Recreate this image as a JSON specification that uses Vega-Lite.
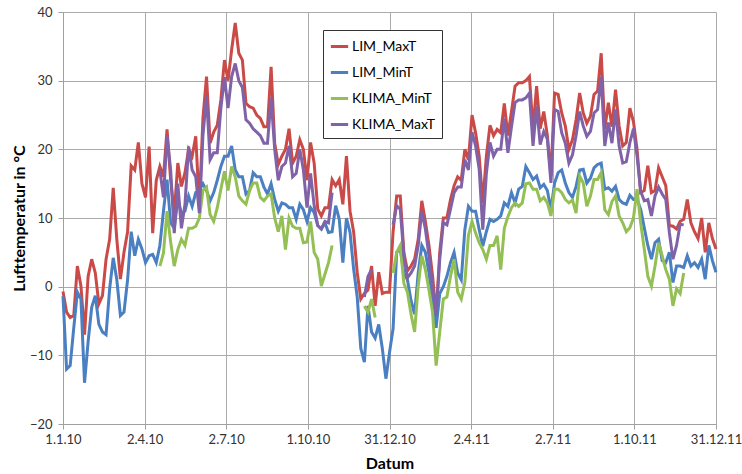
{
  "$schema": "https://vega.github.io/schema/vega-lite/v6.json",
  "width": 653,
  "height": 412,
  "autosize": "none",
  "padding": {"left": 63, "top": 12, "right": 26, "bottom": 50},
  "background": "white",
  "config": {"font": "Lato", "view": {"stroke": null}},
  "data": {"values": [
    {"day":0,"LIM_MaxT":-0.7,"LIM_MinT":-1.4},
    {"day":4,"LIM_MaxT":-3.7,"LIM_MinT":-12},
    {"day":8,"LIM_MaxT":-4.5,"LIM_MinT":-11.5},
    {"day":12,"LIM_MaxT":-4.2,"LIM_MinT":-6},
    {"day":16,"LIM_MaxT":3,"LIM_MinT":-0.8},
    {"day":20,"LIM_MaxT":0.1,"LIM_MinT":-1.8},
    {"day":24,"LIM_MaxT":-7,"LIM_MinT":-14},
    {"day":28,"LIM_MaxT":1.5,"LIM_MinT":-8},
    {"day":32,"LIM_MaxT":4,"LIM_MinT":-3},
    {"day":36,"LIM_MaxT":2,"LIM_MinT":-1.3},
    {"day":40,"LIM_MaxT":-2.5,"LIM_MinT":-5.5},
    {"day":44,"LIM_MaxT":-1.3,"LIM_MinT":-6.6},
    {"day":48,"LIM_MaxT":4,"LIM_MinT":-7},
    {"day":52,"LIM_MaxT":6.9,"LIM_MinT":-0.3},
    {"day":56,"LIM_MaxT":14.4,"LIM_MinT":4.2},
    {"day":60,"LIM_MaxT":6.9,"LIM_MinT":1},
    {"day":64,"LIM_MaxT":1.1,"LIM_MinT":-4.2},
    {"day":68,"LIM_MaxT":5,"LIM_MinT":-3.7},
    {"day":72,"LIM_MaxT":8,"LIM_MinT":1},
    {"day":76,"LIM_MaxT":17.6,"LIM_MinT":8},
    {"day":80,"LIM_MaxT":17,"LIM_MinT":4.5},
    {"day":84,"LIM_MaxT":21,"LIM_MinT":6.9},
    {"day":88,"LIM_MaxT":15,"LIM_MinT":5.5},
    {"day":92,"LIM_MaxT":13,"LIM_MinT":3.5},
    {"day":96,"LIM_MaxT":20.4,"LIM_MinT":4.5},
    {"day":100,"LIM_MaxT":7.8,"LIM_MinT":4.7},
    {"day":104,"LIM_MaxT":15.5,"LIM_MinT":3.5},
    {"day":108,"LIM_MaxT":17.5,"LIM_MinT":6,"KLIMA_MinT":3,"KLIMA_MaxT":17},
    {"day":112,"LIM_MaxT":16,"LIM_MinT":11,"KLIMA_MinT":4.9,"KLIMA_MaxT":13},
    {"day":116,"LIM_MaxT":22.9,"LIM_MinT":15.6,"KLIMA_MinT":11,"KLIMA_MaxT":22},
    {"day":120,"LIM_MaxT":15.6,"LIM_MinT":9.3,"KLIMA_MinT":6.5,"KLIMA_MaxT":17},
    {"day":124,"LIM_MaxT":10.5,"LIM_MinT":8.5,"KLIMA_MinT":3,"KLIMA_MaxT":7.8},
    {"day":128,"LIM_MaxT":18,"LIM_MinT":12.7,"KLIMA_MinT":5.4,"KLIMA_MaxT":15},
    {"day":132,"LIM_MaxT":14.6,"LIM_MinT":10.7,"KLIMA_MinT":6.9,"KLIMA_MaxT":8.5},
    {"day":136,"LIM_MaxT":16.6,"LIM_MinT":11,"KLIMA_MinT":6,"KLIMA_MaxT":12},
    {"day":140,"LIM_MaxT":20,"LIM_MinT":13.2,"KLIMA_MinT":8.5,"KLIMA_MaxT":20.4},
    {"day":144,"LIM_MaxT":19,"LIM_MinT":11.7,"KLIMA_MinT":8.5,"KLIMA_MaxT":17},
    {"day":148,"LIM_MaxT":21.9,"LIM_MinT":13.7,"KLIMA_MinT":8.8,"KLIMA_MaxT":16},
    {"day":152,"LIM_MaxT":11.7,"LIM_MinT":14,"KLIMA_MinT":10,"KLIMA_MaxT":10.7},
    {"day":156,"LIM_MaxT":24.5,"LIM_MinT":15,"KLIMA_MinT":14,"KLIMA_MaxT":22},
    {"day":160,"LIM_MaxT":30.6,"LIM_MinT":14,"KLIMA_MinT":14.5,"KLIMA_MaxT":27.7},
    {"day":164,"LIM_MaxT":20.9,"LIM_MinT":12.5,"KLIMA_MinT":10.5,"KLIMA_MaxT":18.5},
    {"day":168,"LIM_MaxT":22.5,"LIM_MinT":13.7,"KLIMA_MinT":9.5,"KLIMA_MaxT":19.5},
    {"day":172,"LIM_MaxT":23.5,"LIM_MinT":15.5,"KLIMA_MinT":11.5,"KLIMA_MaxT":19.5},
    {"day":176,"LIM_MaxT":27.2,"LIM_MinT":17.5,"KLIMA_MinT":14.2,"KLIMA_MaxT":26},
    {"day":180,"LIM_MaxT":33,"LIM_MinT":19,"KLIMA_MinT":16.8,"KLIMA_MaxT":30.5},
    {"day":184,"LIM_MaxT":30,"LIM_MinT":19,"KLIMA_MinT":14,"KLIMA_MaxT":26},
    {"day":188,"LIM_MaxT":34.5,"LIM_MinT":20.5,"KLIMA_MinT":17.5,"KLIMA_MaxT":30.6},
    {"day":192,"LIM_MaxT":38.4,"LIM_MinT":17,"KLIMA_MinT":16,"KLIMA_MaxT":32.5},
    {"day":196,"LIM_MaxT":34,"LIM_MinT":16,"KLIMA_MinT":13.2,"KLIMA_MaxT":30},
    {"day":200,"LIM_MaxT":33,"LIM_MinT":16,"KLIMA_MinT":12.5,"KLIMA_MaxT":29},
    {"day":204,"LIM_MaxT":26.7,"LIM_MinT":13.5,"KLIMA_MinT":12,"KLIMA_MaxT":24.3},
    {"day":208,"LIM_MaxT":26.2,"LIM_MinT":14,"KLIMA_MinT":14,"KLIMA_MaxT":23.8},
    {"day":212,"LIM_MaxT":26,"LIM_MinT":16.6,"KLIMA_MinT":15.1,"KLIMA_MaxT":23},
    {"day":216,"LIM_MaxT":25,"LIM_MinT":16,"KLIMA_MinT":15.1,"KLIMA_MaxT":22.5},
    {"day":220,"LIM_MaxT":24.5,"LIM_MinT":16,"KLIMA_MinT":13,"KLIMA_MaxT":22},
    {"day":224,"LIM_MaxT":23.3,"LIM_MinT":14.5,"KLIMA_MinT":12.5,"KLIMA_MaxT":20.9},
    {"day":228,"LIM_MaxT":23.3,"LIM_MinT":13.5,"KLIMA_MinT":13.2,"KLIMA_MaxT":20.9},
    {"day":232,"LIM_MaxT":32,"LIM_MinT":15,"KLIMA_MinT":13.5,"KLIMA_MaxT":27.5},
    {"day":236,"LIM_MaxT":20.9,"LIM_MinT":12.7,"KLIMA_MinT":10,"KLIMA_MaxT":20},
    {"day":240,"LIM_MaxT":17.8,"LIM_MinT":11,"KLIMA_MinT":8,"KLIMA_MaxT":15.5},
    {"day":244,"LIM_MaxT":19,"LIM_MinT":12.2,"KLIMA_MinT":10.3,"KLIMA_MaxT":17.5},
    {"day":248,"LIM_MaxT":20,"LIM_MinT":12,"KLIMA_MinT":5.4,"KLIMA_MaxT":18},
    {"day":252,"LIM_MaxT":23,"LIM_MinT":11.5,"KLIMA_MinT":10,"KLIMA_MaxT":20.5},
    {"day":256,"LIM_MaxT":18,"LIM_MinT":11.5,"KLIMA_MinT":8.8,"KLIMA_MaxT":16},
    {"day":260,"LIM_MaxT":19,"LIM_MinT":9.8,"KLIMA_MinT":8.5,"KLIMA_MaxT":16.5},
    {"day":264,"LIM_MaxT":21.4,"LIM_MinT":12,"KLIMA_MinT":8.5,"KLIMA_MaxT":20},
    {"day":268,"LIM_MaxT":20,"LIM_MinT":11.2,"KLIMA_MinT":6.4,"KLIMA_MaxT":17},
    {"day":272,"LIM_MaxT":15.5,"LIM_MinT":9.5,"KLIMA_MinT":6.5,"KLIMA_MaxT":11.5},
    {"day":276,"LIM_MaxT":21,"LIM_MinT":11.5,"KLIMA_MinT":9.5,"KLIMA_MaxT":16.5},
    {"day":280,"LIM_MaxT":18,"LIM_MinT":10.8,"KLIMA_MinT":5,"KLIMA_MaxT":11.8},
    {"day":284,"LIM_MaxT":11.3,"LIM_MinT":8.9,"KLIMA_MinT":4,"KLIMA_MaxT":8.9},
    {"day":288,"LIM_MaxT":10.3,"LIM_MinT":8.4,"KLIMA_MinT":0.1,"KLIMA_MaxT":8.4},
    {"day":292,"LIM_MaxT":11.5,"LIM_MinT":9.3,"KLIMA_MinT":1.8,"KLIMA_MaxT":9.5},
    {"day":296,"LIM_MaxT":11.5,"LIM_MinT":7.9,"KLIMA_MinT":3.5,"KLIMA_MaxT":9.3},
    {"day":300,"LIM_MaxT":15.6,"LIM_MinT":8,"KLIMA_MinT":6,"KLIMA_MaxT":13.7},
    {"day":304,"LIM_MaxT":14.7,"LIM_MinT":11.8,"KLIMA_MinT":null,"KLIMA_MaxT":null},
    {"day":308,"LIM_MaxT":15.6,"LIM_MinT":9.8,"KLIMA_MinT":null,"KLIMA_MaxT":null},
    {"day":312,"LIM_MaxT":12,"LIM_MinT":3.5,"KLIMA_MinT":null,"KLIMA_MaxT":null},
    {"day":316,"LIM_MaxT":19,"LIM_MinT":10,"KLIMA_MinT":null,"KLIMA_MaxT":null},
    {"day":320,"LIM_MaxT":11,"LIM_MinT":7.9,"KLIMA_MinT":null,"KLIMA_MaxT":null},
    {"day":324,"LIM_MaxT":8,"LIM_MinT":2.6,"KLIMA_MinT":null,"KLIMA_MaxT":null},
    {"day":328,"LIM_MaxT":2.1,"LIM_MinT":-1.5,"KLIMA_MinT":null,"KLIMA_MaxT":null},
    {"day":332,"LIM_MaxT":-1.8,"LIM_MinT":-9,"KLIMA_MinT":null,"KLIMA_MaxT":null},
    {"day":336,"LIM_MaxT":-1,"LIM_MinT":-11,"KLIMA_MinT":-2.8,"KLIMA_MaxT":-1.5},
    {"day":340,"LIM_MaxT":-0.5,"LIM_MinT":-2.8,"KLIMA_MinT":-3.7,"KLIMA_MaxT":1.5},
    {"day":344,"LIM_MaxT":3,"LIM_MinT":-6.6,"KLIMA_MinT":-1.8,"KLIMA_MaxT":2.5},
    {"day":348,"LIM_MaxT":-2.8,"LIM_MinT":-7.5,"KLIMA_MinT":-4.5,"KLIMA_MaxT":null},
    {"day":352,"LIM_MaxT":2.1,"LIM_MinT":-5.5,"KLIMA_MinT":null,"KLIMA_MaxT":null},
    {"day":356,"LIM_MaxT":-1,"LIM_MinT":-9,"KLIMA_MinT":null,"KLIMA_MaxT":null},
    {"day":360,"LIM_MaxT":-0.8,"LIM_MinT":-13.4,"KLIMA_MinT":null,"KLIMA_MaxT":null},
    {"day":364,"LIM_MaxT":-0.8,"LIM_MinT":-9.6,"KLIMA_MinT":null,"KLIMA_MaxT":null},
    {"day":368,"LIM_MaxT":8,"LIM_MinT":-6.1,"KLIMA_MinT":2,"KLIMA_MaxT":9},
    {"day":372,"LIM_MaxT":13.2,"LIM_MinT":5,"KLIMA_MinT":5,"KLIMA_MaxT":11.8},
    {"day":376,"LIM_MaxT":13.2,"LIM_MinT":5.5,"KLIMA_MinT":6,"KLIMA_MaxT":11.3},
    {"day":380,"LIM_MaxT":5,"LIM_MinT":2,"KLIMA_MinT":0.5,"KLIMA_MaxT":4.5},
    {"day":384,"LIM_MaxT":2.3,"LIM_MinT":1,"KLIMA_MinT":-0.8,"KLIMA_MaxT":1.3},
    {"day":388,"LIM_MaxT":3,"LIM_MinT":-2,"KLIMA_MinT":-4,"KLIMA_MaxT":2},
    {"day":392,"LIM_MaxT":4,"LIM_MinT":-4,"KLIMA_MinT":-6.6,"KLIMA_MaxT":3},
    {"day":396,"LIM_MaxT":6.9,"LIM_MinT":2,"KLIMA_MinT":0.1,"KLIMA_MaxT":6},
    {"day":400,"LIM_MaxT":12.5,"LIM_MinT":6,"KLIMA_MinT":4.5,"KLIMA_MaxT":11},
    {"day":404,"LIM_MaxT":9.5,"LIM_MinT":5,"KLIMA_MinT":2.5,"KLIMA_MaxT":8.4},
    {"day":408,"LIM_MaxT":6,"LIM_MinT":2,"KLIMA_MinT":-0.5,"KLIMA_MaxT":4.5},
    {"day":412,"LIM_MaxT":1.6,"LIM_MinT":-2,"KLIMA_MinT":-3.7,"KLIMA_MaxT":0.1},
    {"day":416,"LIM_MaxT":-4.2,"LIM_MinT":-6,"KLIMA_MinT":-11.5,"KLIMA_MaxT":-4.2},
    {"day":420,"LIM_MaxT":5,"LIM_MinT":-1,"KLIMA_MinT":-6.6,"KLIMA_MaxT":4},
    {"day":424,"LIM_MaxT":10,"LIM_MinT":0,"KLIMA_MinT":-1.8,"KLIMA_MaxT":9.3},
    {"day":428,"LIM_MaxT":10,"LIM_MinT":1.5,"KLIMA_MinT":-1.5,"KLIMA_MaxT":9},
    {"day":432,"LIM_MaxT":12.7,"LIM_MinT":3.5,"KLIMA_MinT":1.5,"KLIMA_MaxT":11.3},
    {"day":436,"LIM_MaxT":14.7,"LIM_MinT":5,"KLIMA_MinT":4,"KLIMA_MaxT":13.7},
    {"day":440,"LIM_MaxT":16,"LIM_MinT":2,"KLIMA_MinT":-0.8,"KLIMA_MaxT":14.5},
    {"day":444,"LIM_MaxT":15.5,"LIM_MinT":1,"KLIMA_MinT":-1.8,"KLIMA_MaxT":14.5},
    {"day":448,"LIM_MaxT":20,"LIM_MinT":8.3,"KLIMA_MinT":0.6,"KLIMA_MaxT":18.5},
    {"day":452,"LIM_MaxT":18.5,"LIM_MinT":11.7,"KLIMA_MinT":7.5,"KLIMA_MaxT":17},
    {"day":456,"LIM_MaxT":25,"LIM_MinT":11,"KLIMA_MinT":9.5,"KLIMA_MaxT":22.5},
    {"day":460,"LIM_MaxT":22.4,"LIM_MinT":11,"KLIMA_MinT":7.8,"KLIMA_MaxT":20.5},
    {"day":464,"LIM_MaxT":19,"LIM_MinT":8.3,"KLIMA_MinT":6.4,"KLIMA_MaxT":17.1},
    {"day":468,"LIM_MaxT":12.2,"LIM_MinT":5.9,"KLIMA_MinT":5.4,"KLIMA_MaxT":8.3},
    {"day":472,"LIM_MaxT":19,"LIM_MinT":8,"KLIMA_MinT":4,"KLIMA_MaxT":16.5},
    {"day":476,"LIM_MaxT":23.5,"LIM_MinT":9.8,"KLIMA_MinT":6,"KLIMA_MaxT":21},
    {"day":480,"LIM_MaxT":22,"LIM_MinT":9.5,"KLIMA_MinT":6,"KLIMA_MaxT":19},
    {"day":484,"LIM_MaxT":22.9,"LIM_MinT":9.8,"KLIMA_MinT":7.4,"KLIMA_MaxT":20},
    {"day":488,"LIM_MaxT":22.4,"LIM_MinT":10.3,"KLIMA_MinT":2.5,"KLIMA_MaxT":20},
    {"day":492,"LIM_MaxT":26.7,"LIM_MinT":12.2,"KLIMA_MinT":8.5,"KLIMA_MaxT":24.5},
    {"day":496,"LIM_MaxT":22,"LIM_MinT":11.7,"KLIMA_MinT":10.2,"KLIMA_MaxT":19.5},
    {"day":500,"LIM_MaxT":25.5,"LIM_MinT":13.7,"KLIMA_MinT":11.5,"KLIMA_MaxT":23.3},
    {"day":504,"LIM_MaxT":29.2,"LIM_MinT":12.2,"KLIMA_MinT":12.2,"KLIMA_MaxT":26.8},
    {"day":508,"LIM_MaxT":29.7,"LIM_MinT":14.2,"KLIMA_MinT":11.7,"KLIMA_MaxT":27.2},
    {"day":512,"LIM_MaxT":29.7,"LIM_MinT":14.6,"KLIMA_MinT":12.2,"KLIMA_MaxT":27.2},
    {"day":516,"LIM_MaxT":30,"LIM_MinT":17.5,"KLIMA_MinT":15,"KLIMA_MaxT":27.5},
    {"day":520,"LIM_MaxT":30.6,"LIM_MinT":16.6,"KLIMA_MinT":15.1,"KLIMA_MaxT":28.2},
    {"day":524,"LIM_MaxT":22.9,"LIM_MinT":15.6,"KLIMA_MinT":14.2,"KLIMA_MaxT":20.5},
    {"day":528,"LIM_MaxT":29.2,"LIM_MinT":16.1,"KLIMA_MinT":14.2,"KLIMA_MaxT":26.3},
    {"day":532,"LIM_MaxT":23,"LIM_MinT":14.4,"KLIMA_MinT":12.5,"KLIMA_MaxT":20.7},
    {"day":536,"LIM_MaxT":25.5,"LIM_MinT":14.9,"KLIMA_MinT":13,"KLIMA_MaxT":22.6},
    {"day":540,"LIM_MaxT":22,"LIM_MinT":14,"KLIMA_MinT":12.2,"KLIMA_MaxT":21.5},
    {"day":544,"LIM_MaxT":16.1,"LIM_MinT":11.2,"KLIMA_MinT":10.3,"KLIMA_MaxT":15.1},
    {"day":548,"LIM_MaxT":28.2,"LIM_MinT":15.1,"KLIMA_MinT":14.2,"KLIMA_MaxT":25.8},
    {"day":552,"LIM_MaxT":28,"LIM_MinT":16.6,"KLIMA_MinT":14.2,"KLIMA_MaxT":25.5},
    {"day":556,"LIM_MaxT":25.3,"LIM_MinT":17,"KLIMA_MinT":13.7,"KLIMA_MaxT":22.4},
    {"day":560,"LIM_MaxT":23.4,"LIM_MinT":15.1,"KLIMA_MinT":12.7,"KLIMA_MaxT":20.9},
    {"day":564,"LIM_MaxT":20,"LIM_MinT":13.7,"KLIMA_MinT":12.2,"KLIMA_MaxT":18},
    {"day":568,"LIM_MaxT":21.4,"LIM_MinT":13,"KLIMA_MinT":12.6,"KLIMA_MaxT":19.2},
    {"day":572,"LIM_MaxT":24.3,"LIM_MinT":14.6,"KLIMA_MinT":10.7,"KLIMA_MaxT":22},
    {"day":576,"LIM_MaxT":28.2,"LIM_MinT":17,"KLIMA_MinT":16.1,"KLIMA_MaxT":25.5},
    {"day":580,"LIM_MaxT":25.3,"LIM_MinT":17.1,"KLIMA_MinT":15.1,"KLIMA_MaxT":23.4},
    {"day":584,"LIM_MaxT":23.8,"LIM_MinT":15.1,"KLIMA_MinT":11.7,"KLIMA_MaxT":21.9},
    {"day":588,"LIM_MaxT":24.8,"LIM_MinT":15.8,"KLIMA_MinT":13.2,"KLIMA_MaxT":22.6},
    {"day":592,"LIM_MaxT":28,"LIM_MinT":17.3,"KLIMA_MinT":15.6,"KLIMA_MaxT":25.3},
    {"day":596,"LIM_MaxT":28.5,"LIM_MinT":17.8,"KLIMA_MinT":15.6,"KLIMA_MaxT":25.8},
    {"day":600,"LIM_MaxT":34,"LIM_MinT":18,"KLIMA_MinT":16.6,"KLIMA_MaxT":30.6},
    {"day":604,"LIM_MaxT":22.9,"LIM_MinT":14.2,"KLIMA_MinT":11.2,"KLIMA_MaxT":20.5},
    {"day":608,"LIM_MaxT":26.8,"LIM_MinT":14.4,"KLIMA_MinT":10.5,"KLIMA_MaxT":23.9},
    {"day":612,"LIM_MaxT":23.3,"LIM_MinT":13.9,"KLIMA_MinT":12.4,"KLIMA_MaxT":20.9},
    {"day":616,"LIM_MaxT":28.7,"LIM_MinT":14.6,"KLIMA_MinT":13.2,"KLIMA_MaxT":25.8},
    {"day":620,"LIM_MaxT":23.4,"LIM_MinT":12.7,"KLIMA_MinT":10.3,"KLIMA_MaxT":20.5},
    {"day":624,"LIM_MaxT":20.5,"LIM_MinT":12.2,"KLIMA_MinT":9.3,"KLIMA_MaxT":18},
    {"day":628,"LIM_MaxT":21,"LIM_MinT":12,"KLIMA_MinT":8,"KLIMA_MaxT":18.2},
    {"day":632,"LIM_MaxT":26,"LIM_MinT":13.3,"KLIMA_MinT":8.6,"KLIMA_MaxT":21},
    {"day":636,"LIM_MaxT":24,"LIM_MinT":12.7,"KLIMA_MinT":10,"KLIMA_MaxT":23},
    {"day":640,"LIM_MaxT":20,"LIM_MinT":12.7,"KLIMA_MinT":14.2,"KLIMA_MaxT":19},
    {"day":644,"LIM_MaxT":13.7,"LIM_MinT":11.3,"KLIMA_MinT":9.3,"KLIMA_MaxT":13.9},
    {"day":648,"LIM_MaxT":14,"LIM_MinT":8.6,"KLIMA_MinT":5.5,"KLIMA_MaxT":12.5},
    {"day":652,"LIM_MaxT":17.6,"LIM_MinT":6,"KLIMA_MinT":1.5,"KLIMA_MaxT":12.7},
    {"day":656,"LIM_MaxT":13.7,"LIM_MinT":4,"KLIMA_MinT":0.1,"KLIMA_MaxT":10.3},
    {"day":660,"LIM_MaxT":14,"LIM_MinT":6.4,"KLIMA_MinT":3,"KLIMA_MaxT":13.2},
    {"day":664,"LIM_MaxT":17.3,"LIM_MinT":6.9,"KLIMA_MinT":6.4,"KLIMA_MaxT":14.5},
    {"day":668,"LIM_MaxT":16,"LIM_MinT":3.8,"KLIMA_MinT":4.5,"KLIMA_MaxT":13.5},
    {"day":672,"LIM_MaxT":14.7,"LIM_MinT":3.5,"KLIMA_MinT":2.5,"KLIMA_MaxT":12.7},
    {"day":676,"LIM_MaxT":8.9,"LIM_MinT":5,"KLIMA_MinT":1.1,"KLIMA_MaxT":7.9},
    {"day":680,"LIM_MaxT":8.8,"LIM_MinT":0.6,"KLIMA_MinT":-2.8,"KLIMA_MaxT":4},
    {"day":684,"LIM_MaxT":8.4,"LIM_MinT":3,"KLIMA_MinT":-0.3,"KLIMA_MaxT":6},
    {"day":688,"LIM_MaxT":9.5,"LIM_MinT":3,"KLIMA_MinT":-1,"KLIMA_MaxT":9.1},
    {"day":692,"LIM_MaxT":9.8,"LIM_MinT":2.8,"KLIMA_MinT":2,"KLIMA_MaxT":9},
    {"day":696,"LIM_MaxT":12.7,"LIM_MinT":4.5},
    {"day":700,"LIM_MaxT":9.3,"LIM_MinT":3},
    {"day":704,"LIM_MaxT":8,"LIM_MinT":3.5},
    {"day":708,"LIM_MaxT":7,"LIM_MinT":2.8},
    {"day":712,"LIM_MaxT":10,"LIM_MinT":4},
    {"day":716,"LIM_MaxT":5,"LIM_MinT":1.1},
    {"day":720,"LIM_MaxT":9.3,"LIM_MinT":6},
    {"day":724,"LIM_MaxT":7,"LIM_MinT":3.8},
    {"day":728,"LIM_MaxT":5.5,"LIM_MinT":2.1}
  ]},
  "transform": [
    {"fold": ["LIM_MaxT", "LIM_MinT", "KLIMA_MinT", "KLIMA_MaxT"], "as": ["series", "temp"]}
  ],
  "encoding": {
    "x": {
      "field": "day", "type": "quantitative",
      "scale": {"domain": [0, 728], "nice": false, "zero": false},
      "axis": {
        "values": [0, 91, 182, 273, 364, 455, 546, 637, 728],
        "labelExpr": "['1.1.10','2.4.10','2.7.10','1.10.10','31.12.10','2.4.11','2.7.11','1.10.11','31.12.11'][round(datum.value/91)]",
        "title": "Datum", "titleFontSize": 16, "titleFontWeight": "bold", "titleColor": "#000", "titlePadding": 9,
        "labelFontSize": 13, "labelColor": "#333", "labelPadding": 4, "labelOverlap": false, "labelFlush": false, "labelBound": false,
        "grid": true, "gridColor": "#ababab", "domainColor": "#a0a0a0", "tickColor": "#a0a0a0", "tickSize": 5
      }
    },
    "y": {
      "field": "temp", "type": "quantitative",
      "scale": {"domain": [-20, 40], "nice": false},
      "axis": {
        "values": [-20, -10, 0, 10, 20, 30, 40],
        "title": "Lufttemperatur in °C", "titleFontSize": 16, "titleFontWeight": "bold", "titleColor": "#000", "titlePadding": 2,
        "labelFontSize": 13, "labelColor": "#333", "labelPadding": 6,
        "grid": true, "gridColor": "#ababab", "domainColor": "#a0a0a0", "tickColor": "#a0a0a0", "tickSize": 5
      }
    },
    "color": {
      "field": "series", "type": "nominal",
      "scale": {"domain": ["LIM_MaxT", "LIM_MinT", "KLIMA_MinT", "KLIMA_MaxT"], "range": ["#c94a47", "#4a7fc1", "#94bf55", "#8062a8"]},
      "legend": {
        "orient": "none", "legendX": 260, "legendY": 18, "title": null,
        "symbolType": "stroke", "symbolSize": 300, "symbolStrokeWidth": 3,
        "labelFontSize": 14, "labelColor": "#000", "labelOffset": 2,
        "rowPadding": 8, "padding": 6, "fillColor": "white", "strokeColor": "#333"
      }
    }
  },
  "layer": [
    {"transform": [{"filter": "datum.series === 'LIM_MaxT'"}], "mark": {"type": "line", "strokeWidth": 3, "invalid": "break-paths-filter-domains"}},
    {"transform": [{"filter": "datum.series === 'LIM_MinT'"}], "mark": {"type": "line", "strokeWidth": 3, "invalid": "break-paths-filter-domains"}},
    {"transform": [{"filter": "datum.series === 'KLIMA_MinT'"}], "mark": {"type": "line", "strokeWidth": 3, "invalid": "break-paths-filter-domains"}},
    {"transform": [{"filter": "datum.series === 'KLIMA_MaxT'"}], "mark": {"type": "line", "strokeWidth": 3, "invalid": "break-paths-filter-domains"}}
  ]
}
